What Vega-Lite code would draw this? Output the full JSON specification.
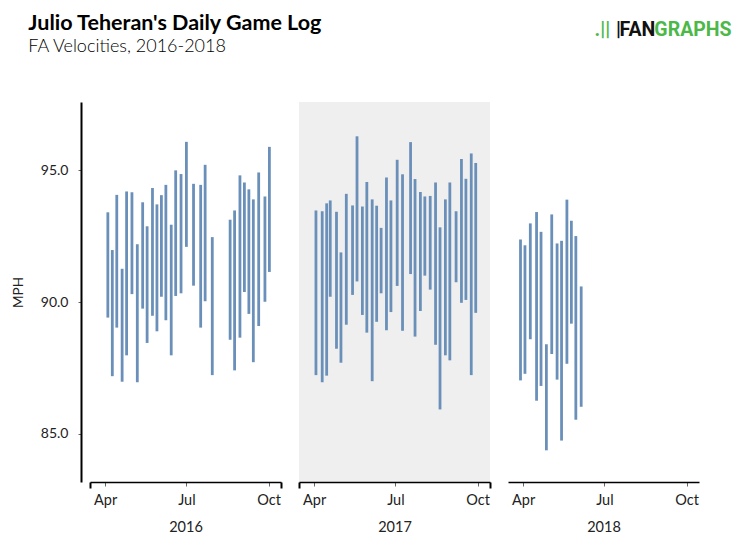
{
  "$schema": "https://vega.github.io/schema/vega-lite/v6.json",
  "background": "white",
  "padding": {"left": 11, "top": 12, "right": 0, "bottom": 0},
  "bounds": "flush",
  "title": {
    "text": "Julio Teheran's Daily Game Log",
    "subtitle": "FA Velocities, 2016-2018",
    "anchor": "start",
    "frame": "bounds",
    "font": "Lato",
    "fontSize": 21.5,
    "fontWeight": "bold",
    "color": "#000000",
    "subtitleFont": "Lato",
    "subtitleFontSize": 18,
    "subtitleFontWeight": 300,
    "subtitleColor": "#000000",
    "subtitlePadding": 4,
    "dx": 17,
    "offset": -36
  },
  "config": {
    "view": {"stroke": null},
    "axis": {
      "grid": false,
      "labelFont": "Lato",
      "labelFontSize": 14.5,
      "labelColor": "#222222",
      "titleFont": "Lato",
      "titleFontSize": 14.5,
      "titleFontWeight": "normal",
      "titleColor": "#222222",
      "domainColor": "#000000"
    }
  },
  "datasets": {
    "games": [
      {"date": "2016-04-04", "low": 89.41, "high": 93.40},
      {"date": "2016-04-09", "low": 87.19, "high": 91.97},
      {"date": "2016-04-14", "low": 89.03, "high": 94.06},
      {"date": "2016-04-20", "low": 86.98, "high": 91.26},
      {"date": "2016-04-25", "low": 87.98, "high": 94.19},
      {"date": "2016-05-01", "low": 90.30, "high": 94.16},
      {"date": "2016-05-07", "low": 86.96, "high": 92.19},
      {"date": "2016-05-13", "low": 89.75, "high": 93.78},
      {"date": "2016-05-18", "low": 88.45, "high": 92.87},
      {"date": "2016-05-24", "low": 89.48, "high": 94.32},
      {"date": "2016-05-29", "low": 88.89, "high": 93.70},
      {"date": "2016-06-03", "low": 90.20, "high": 94.05},
      {"date": "2016-06-08", "low": 89.31, "high": 94.44},
      {"date": "2016-06-14", "low": 87.98, "high": 92.93},
      {"date": "2016-06-19", "low": 90.23, "high": 94.99},
      {"date": "2016-06-25", "low": 90.33, "high": 94.85},
      {"date": "2016-07-01", "low": 92.09, "high": 96.07},
      {"date": "2016-07-09", "low": 90.62, "high": 94.48},
      {"date": "2016-07-17", "low": 89.03, "high": 94.44},
      {"date": "2016-07-22", "low": 90.03, "high": 95.20},
      {"date": "2016-07-30", "low": 87.23, "high": 92.46},
      {"date": "2016-08-19", "low": 88.57, "high": 93.12},
      {"date": "2016-08-24", "low": 87.41, "high": 93.47},
      {"date": "2016-08-30", "low": 88.65, "high": 94.80},
      {"date": "2016-09-04", "low": 90.38, "high": 94.53},
      {"date": "2016-09-09", "low": 89.55, "high": 94.27},
      {"date": "2016-09-14", "low": 87.72, "high": 93.89},
      {"date": "2016-09-20", "low": 89.09, "high": 94.91},
      {"date": "2016-09-27", "low": 90.01, "high": 94.00},
      {"date": "2016-10-02", "low": 91.14, "high": 95.88},
      {"date": "2017-04-03", "low": 87.23, "high": 93.47},
      {"date": "2017-04-10", "low": 86.96, "high": 93.44},
      {"date": "2017-04-15", "low": 87.21, "high": 93.74},
      {"date": "2017-04-19", "low": 90.20, "high": 93.85},
      {"date": "2017-04-26", "low": 88.23, "high": 93.42},
      {"date": "2017-05-01", "low": 87.70, "high": 91.88},
      {"date": "2017-05-07", "low": 89.14, "high": 94.10},
      {"date": "2017-05-14", "low": 90.27, "high": 93.66},
      {"date": "2017-05-19", "low": 90.78, "high": 96.28},
      {"date": "2017-05-25", "low": 89.51, "high": 93.62},
      {"date": "2017-05-30", "low": 88.84, "high": 94.55},
      {"date": "2017-06-05", "low": 87.00, "high": 93.89},
      {"date": "2017-06-10", "low": 89.25, "high": 93.65},
      {"date": "2017-06-15", "low": 90.33, "high": 92.81},
      {"date": "2017-06-21", "low": 88.93, "high": 94.72},
      {"date": "2017-06-26", "low": 89.62, "high": 93.85},
      {"date": "2017-07-03", "low": 90.61, "high": 95.39},
      {"date": "2017-07-09", "low": 88.91, "high": 94.84},
      {"date": "2017-07-18", "low": 91.06, "high": 96.06},
      {"date": "2017-07-23", "low": 88.69, "high": 94.66},
      {"date": "2017-07-29", "low": 89.66, "high": 94.17},
      {"date": "2017-08-03", "low": 91.00, "high": 94.00},
      {"date": "2017-08-09", "low": 90.47, "high": 94.02},
      {"date": "2017-08-15", "low": 88.38, "high": 94.53},
      {"date": "2017-08-20", "low": 85.93, "high": 92.83},
      {"date": "2017-08-26", "low": 87.98, "high": 93.89},
      {"date": "2017-08-31", "low": 87.79, "high": 94.53},
      {"date": "2017-09-07", "low": 90.75, "high": 93.44},
      {"date": "2017-09-13", "low": 89.97, "high": 95.42},
      {"date": "2017-09-18", "low": 90.08, "high": 94.67},
      {"date": "2017-09-24", "low": 87.23, "high": 95.63},
      {"date": "2017-09-29", "low": 89.59, "high": 95.27},
      {"date": "2018-03-29", "low": 87.03, "high": 92.37},
      {"date": "2018-04-03", "low": 87.28, "high": 92.15},
      {"date": "2018-04-09", "low": 88.59, "high": 92.98},
      {"date": "2018-04-16", "low": 86.26, "high": 93.41},
      {"date": "2018-04-21", "low": 86.82, "high": 92.66},
      {"date": "2018-04-27", "low": 84.38, "high": 88.40},
      {"date": "2018-05-03", "low": 88.03, "high": 93.32},
      {"date": "2018-05-09", "low": 87.06, "high": 92.22},
      {"date": "2018-05-14", "low": 84.75, "high": 92.32},
      {"date": "2018-05-20", "low": 87.66, "high": 93.88},
      {"date": "2018-05-25", "low": 89.18, "high": 93.08},
      {"date": "2018-05-30", "low": 85.54, "high": 92.50},
      {"date": "2018-06-05", "low": 86.03, "high": 90.59}
    ],
    "logo": [
      {"label": "|", "date": "2018-07-14", "mph": 100.3, "part": "black"},
      {"label": "FAN", "date": "2018-07-18", "mph": 100.3, "part": "black"},
      {"label": "GRAPHS", "date": "2018-08-26", "mph": 100.3, "part": "green"},
      {"label": ".||", "date": "2018-06-20", "mph": 100.3, "part": "green"}
    ]
  },
  "spacing": 18,
  "hconcat": [
    {
      "width": 191,
      "height": 380,
      "data": {"name": "games"},
      "transform": [{"filter": "year(datum.date) == 2016"}],
      "mark": {"type": "rule", "color": "#6a90b9", "strokeWidth": 2.8},
      "encoding": {
        "x": {
          "field": "date",
          "type": "temporal",
          "scale": {"domain": [{"year": 2016, "month": "mar", "date": 15}, {"year": 2016, "month": "oct", "date": 15}]},
          "axis": {
            "title": "2016",
            "titlePadding": 12,
            "values": [
              {"year": 2016, "month": "mar", "date": 15},
              {"year": 2016, "month": "apr", "date": 1},
              {"year": 2016, "month": "jul", "date": 1},
              {"year": 2016, "month": "oct", "date": 1},
              {"year": 2016, "month": "oct", "date": 15}
            ],
            "labelExpr": "date(datum.value) == 15 ? '' : timeFormat(datum.value, '%b')",
            "labelOverlap": false,
            "labelPadding": 7,
            "domainWidth": 1.5,
            "tickColor": {"condition": {"test": "date(datum.value) == 15", "value": "#000000"}, "value": "#666666"},
            "tickWidth": {"condition": {"test": "date(datum.value) == 15", "value": 2}, "value": 1},
            "tickSize": {"condition": {"test": "date(datum.value) == 15", "value": 6}, "value": 4}
          }
        },
        "y": {
          "field": "low",
          "type": "quantitative",
          "scale": {"domain": [83.18, 97.58], "nice": false, "zero": false},
          "axis": {
            "title": "MPH",
            "titleFontSize": 13.5,
            "values": [85, 90, 95],
            "format": ".1f",
            "offset": 9,
            "domainWidth": 2,
            "labelFontSize": 14,
            "tickSize": 3,
            "tickColor": "#666666",
            "labelPadding": 10,
            "titlePadding": 15
          }
        },
        "y2": {"field": "high"}
      }
    },
    {
      "width": 191,
      "height": 380,
      "view": {"fill": "#efefef", "stroke": null},
      "data": {"name": "games"},
      "transform": [{"filter": "year(datum.date) == 2017"}],
      "mark": {"type": "rule", "color": "#6a90b9", "strokeWidth": 2.8},
      "encoding": {
        "x": {
          "field": "date",
          "type": "temporal",
          "scale": {"domain": [{"year": 2017, "month": "mar", "date": 15}, {"year": 2017, "month": "oct", "date": 15}]},
          "axis": {
            "title": "2017",
            "titlePadding": 12,
            "values": [
              {"year": 2017, "month": "mar", "date": 15},
              {"year": 2017, "month": "apr", "date": 1},
              {"year": 2017, "month": "jul", "date": 1},
              {"year": 2017, "month": "oct", "date": 1},
              {"year": 2017, "month": "oct", "date": 15}
            ],
            "labelExpr": "date(datum.value) == 15 ? '' : timeFormat(datum.value, '%b')",
            "labelOverlap": false,
            "labelPadding": 7,
            "domainWidth": 1.5,
            "tickColor": {"condition": {"test": "date(datum.value) == 15", "value": "#000000"}, "value": "#666666"},
            "tickWidth": {"condition": {"test": "date(datum.value) == 15", "value": 2}, "value": 1},
            "tickSize": {"condition": {"test": "date(datum.value) == 15", "value": 6}, "value": 4}
          }
        },
        "y": {
          "field": "low",
          "type": "quantitative",
          "scale": {"domain": [83.18, 97.58], "nice": false, "zero": false},
          "axis": null
        },
        "y2": {"field": "high"}
      }
    },
    {
      "width": 191,
      "height": 380,
      "layer": [
        {
          "data": {"name": "games"},
          "transform": [{"filter": "year(datum.date) == 2018"}],
          "mark": {"type": "rule", "color": "#6a90b9", "strokeWidth": 2.8},
          "encoding": {
            "x": {
              "field": "date",
              "type": "temporal",
              "scale": {"domain": [{"year": 2018, "month": "mar", "date": 15}, {"year": 2018, "month": "oct", "date": 15}]},
              "axis": {
                "title": "2018",
                "titlePadding": 14,
                "values": [
                  {"year": 2018, "month": "apr", "date": 1},
                  {"year": 2018, "month": "jul", "date": 1},
                  {"year": 2018, "month": "oct", "date": 1}
                ],
                "format": "%b",
                "labelPadding": 7,
                "domainWidth": 1.5,
                "tickColor": "#666666",
                "tickSize": 4
              }
            },
            "y": {
              "field": "low",
              "type": "quantitative",
              "scale": {"domain": [83.18, 97.58], "nice": false, "zero": false},
              "axis": null
            },
            "y2": {"field": "high"}
          }
        },
        {
          "data": {"name": "logo"},
          "mark": {"type": "text", "align": "left", "font": "Roboto", "fontSize": 19.5, "fontWeight": "bold"},
          "encoding": {
            "x": {"field": "date", "type": "temporal"},
            "y": {"field": "mph", "type": "quantitative"},
            "text": {"field": "label"},
            "color": {
              "field": "part",
              "type": "nominal",
              "scale": {"domain": ["black", "green"], "range": ["#111111", "#4cb848"]},
              "legend": null
            }
          }
        }
      ]
    }
  ]
}
